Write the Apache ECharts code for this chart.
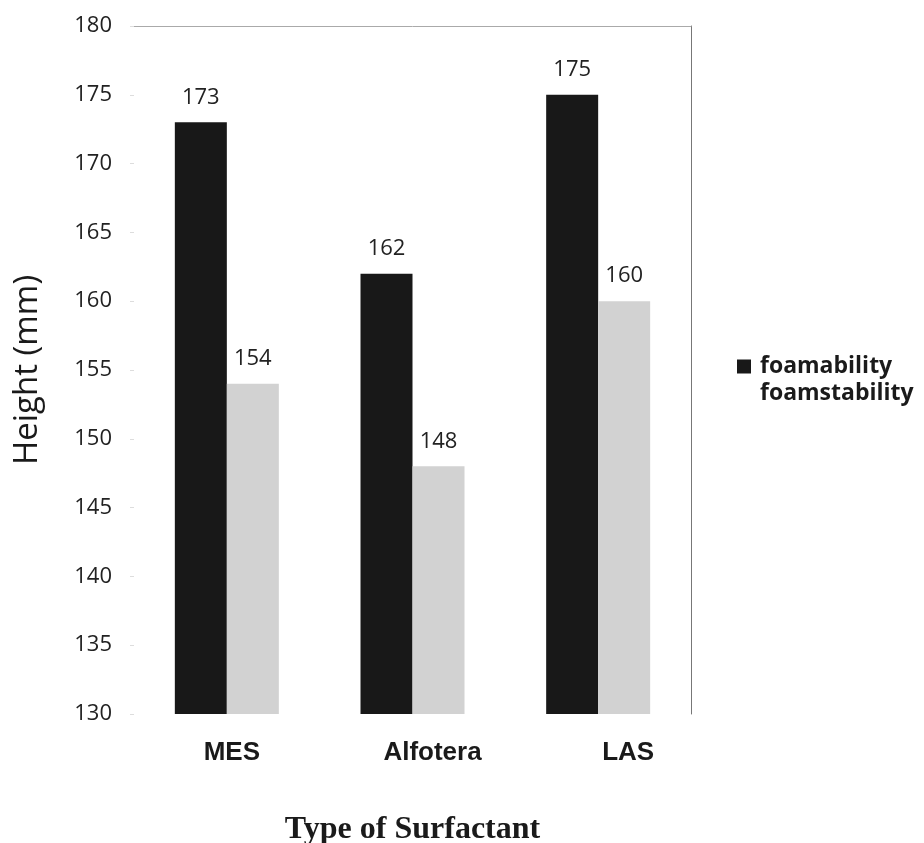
<!DOCTYPE html>
<html>
<head>
<meta charset="utf-8">
<script src="https://cdn.jsdelivr.net/npm/echarts@6/dist/echarts.min.js"></script>
<style>
  html, body { margin: 0; padding: 0; background: #fff; }
  #chart { width: 924px; height: 843px; }
</style>
</head>
<body>
<div id="chart"></div>
<script>
// data
const categories = ['MES', 'Alfotera', 'LAS'];
const foamability = [173, 162, 175];
const foamstability = [154, 148, 160];
const yTicks = [130, 135, 140, 145, 150, 155, 160, 165, 170, 175, 180];

// category labels sit a bit right of the group centre in the original
const labelShift = { MES: 10, Alfotera: 40, LAS: 60 };

const chart = echarts.init(document.getElementById('chart'));

const rich = {};
categories.forEach(function (c, i) {
  rich['c' + i] = {
    fontFamily: 'Liberation Sans, Arial, sans-serif',
    fontWeight: 'bold',
    fontSize: 26,
    color: '#1a1a1a',
    padding: [0, 0, 0, labelShift[c]]
  };
});

const valLabel = {
  show: true,
  position: 'top',
  distance: 14,
  fontFamily: 'Open Sans, sans-serif',
  fontSize: 22,
  color: '#222'
};

chart.setOption({
  backgroundColor: '#fff',
  animation: false,
  grid: { left: 134, right: 233, top: 26, bottom: 129, containLabel: false, outerBoundsMode: 'none' },
  legend: {
    orient: 'vertical',
    left: 732,
    top: 350,
    itemWidth: 14,
    itemHeight: 14,
    itemGap: 4,
    icon: 'rect',
    textStyle: {
      fontFamily: 'Open Sans, sans-serif',
      fontWeight: 'bold',
      fontSize: 23,
      lineHeight: 22,
      color: '#1a1a1a',
      padding: [0, 0, 0, 4]
    },
    data: [
      { name: 'foamability' },
      { name: 'foamstability', itemStyle: { opacity: 0 } }
    ]
  },
  xAxis: [{
    type: 'category',
    data: categories,
    axisLine: { show: false },
    axisTick: { show: false },
    axisLabel: {
      margin: 26,
      formatter: function (v) { return '{c' + categories.indexOf(v) + '|' + v + '}'; },
      rich: rich
    },
    name: 'Type of Surfactant',
    nameLocation: 'middle',
    nameGap: 100,
    nameTextStyle: {
      fontFamily: 'Liberation Serif, Times New Roman, serif',
      fontWeight: 'bold',
      fontSize: 32,
      color: '#1a1a1a'
    }
  }, {
    type: 'category',
    position: 'top',
    data: categories,
    axisLine: { show: true, lineStyle: { color: '#aaa', width: 1 } },
    axisTick: { show: false },
    axisLabel: { show: false }
  }],
  yAxis: [{
    type: 'value',
    min: yTicks[0],
    max: yTicks[yTicks.length - 1],
    interval: 5,
    axisLine: { show: false },
    axisTick: { show: true, length: 4, lineStyle: { color: '#ddd' } },
    splitLine: { show: false },
    axisLabel: {
      margin: 22,
      fontFamily: 'Open Sans, sans-serif',
      fontSize: 22,
      color: '#222'
    },
    name: 'Height (mm)',
    nameLocation: 'middle',
    nameGap: 90,
    nameTextStyle: {
      fontFamily: 'Open Sans, sans-serif',
      fontSize: 33,
      color: '#1a1a1a'
    }
  }, {
    type: 'value',
    position: 'right',
    min: yTicks[0],
    max: yTicks[yTicks.length - 1],
    interval: 5,
    axisLine: { show: true, lineStyle: { color: '#777', width: 1 } },
    axisTick: { show: false },
    axisLabel: { show: false },
    splitLine: { show: false }
  }],
  series: [{
    name: 'foamability',
    type: 'bar',
    data: foamability,
    barWidth: 52,
    barGap: '0%',
    itemStyle: { color: '#181818' },
    label: valLabel
  }, {
    name: 'foamstability',
    type: 'bar',
    data: foamstability,
    barWidth: 52,
    barGap: '0%',
    itemStyle: { color: '#d2d2d2' },
    label: valLabel
  }]
});
</script>
</body>
</html>
